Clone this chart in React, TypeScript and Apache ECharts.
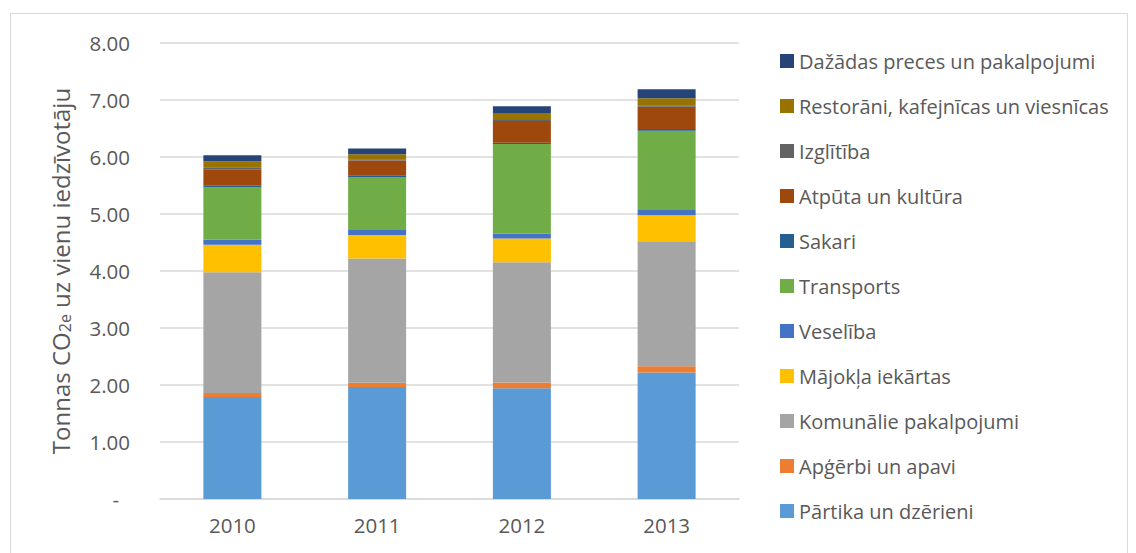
import React, { useEffect, useRef } from "react";
import * as echarts from "echarts";

const years = ["2010", "2011", "2012", "2013"];

const seriesNames = [
  "Pārtika un dzērieni",
  "Apģērbi un apavi",
  "Komunālie pakalpojumi",
  "Mājokļa iekārtas",
  "Veselība",
  "Transports",
  "Sakari",
  "Atpūta un kultūra",
  "Izglītība",
  "Restorāni, kafejnīcas un viesnīcas",
  "Dažādas preces un pakalpojumi",
];

const partika = [1.79, 1.965, 1.945, 2.22];
const apgerbi = [0.07, 0.075, 0.1, 0.11];
const komunalie = [2.12, 2.18, 2.11, 2.19];
const majokla = [0.48, 0.41, 0.415, 0.46];
const veseliba = [0.09, 0.09, 0.09, 0.09];
const transports = [0.92, 0.93, 1.57, 1.39];
const sakari = [0.025, 0.03, 0.02, 0.03];
const atputa = [0.29, 0.26, 0.38, 0.39];
const izglitiba = [0.035, 0.02, 0.02, 0.03];
const restorani = [0.1, 0.09, 0.12, 0.12];
const dazadas = [0.11, 0.1, 0.12, 0.16];

const seriesValues = [
  partika,
  apgerbi,
  komunalie,
  majokla,
  veseliba,
  transports,
  sakari,
  atputa,
  izglitiba,
  restorani,
  dazadas,
];

const colors = [
  "#5B9BD5",
  "#ED7D31",
  "#A5A5A5",
  "#FFC000",
  "#4472C4",
  "#70AD47",
  "#255E91",
  "#9E480E",
  "#636363",
  "#997300",
  "#264478",
];

const yTicks = [0, 1, 2, 3, 4, 5, 6, 7, 8];

const FONT = "'Open Sans', sans-serif";
const TXT = "#595959";

export default function App() {
  const ref = useRef<HTMLDivElement>(null);

  useEffect(() => {
    document.body.style.margin = "0";
    if (!ref.current) return;
    const chart = echarts.init(ref.current, undefined, { renderer: "svg" });
    chart.setOption({
      animation: false,
      color: colors,
      textStyle: { fontFamily: FONT, color: TXT },
      graphic: [
        {
          type: "rect",
          shape: { x: 10.5, y: 13.5, width: 1117, height: 600 },
          style: { fill: "none", stroke: "#d9d9d9", lineWidth: 1 },
          silent: true,
        },
      ],
      grid: { left: 160, right: 397, top: 43, bottom: 54, containLabel: false },
      xAxis: {
        type: "category",
        data: years,
        axisLine: { show: true, lineStyle: { color: "#d9d9d9", width: 1.5 } },
        axisTick: { show: false },
        axisLabel: { color: TXT, fontSize: 20.5, fontFamily: FONT, margin: 15 },
      },
      yAxis: {
        type: "value",
        min: yTicks[0],
        max: yTicks[yTicks.length - 1],
        interval: 1,
        name: "Tonnas CO{sub|2e} uz vienu iedzīvotāju",
        nameLocation: "middle",
        nameGap: 87,
        nameRotate: 90,
        nameTextStyle: {
          color: TXT,
          fontSize: 24,
          fontFamily: FONT,
          rich: {
            sub: {
              fontSize: 16,
              color: TXT,
              fontFamily: FONT,
              verticalAlign: "bottom",
              padding: [10, 0, 0, 0],
            },
          },
        },
        axisLine: { show: false },
        axisTick: { show: false },
        splitLine: { lineStyle: { color: "#d9d9d9", width: 1.5 } },
        axisLabel: {
          color: TXT,
          fontSize: 20.5,
          fontFamily: FONT,
          margin: 30,
          formatter: (v: number) => (v === 0 ? "{z|-}" : v.toFixed(2)),
          rich: {
            z: { color: TXT, fontSize: 20.5, fontFamily: FONT, padding: [0, 11, 0, 0] },
          },
        },
      },
      legend: {
        orient: "vertical",
        left: 780,
        top: 50,
        padding: 0,
        data: [...seriesNames].reverse(),
        itemWidth: 14,
        itemHeight: 14,
        itemGap: 23,
        icon: "rect",
        textStyle: { color: TXT, fontSize: 20, fontFamily: FONT, lineHeight: 22 },
        selectedMode: false,
      },
      series: seriesNames.map((name, i) => ({
        name,
        type: "bar",
        stack: "total",
        barWidth: 58,
        data: seriesValues[i],
        itemStyle: { color: colors[i] },
      })),
    });
    return () => chart.dispose();
  }, []);

  return <div ref={ref} style={{ width: 1136, height: 553 }} />;
}
